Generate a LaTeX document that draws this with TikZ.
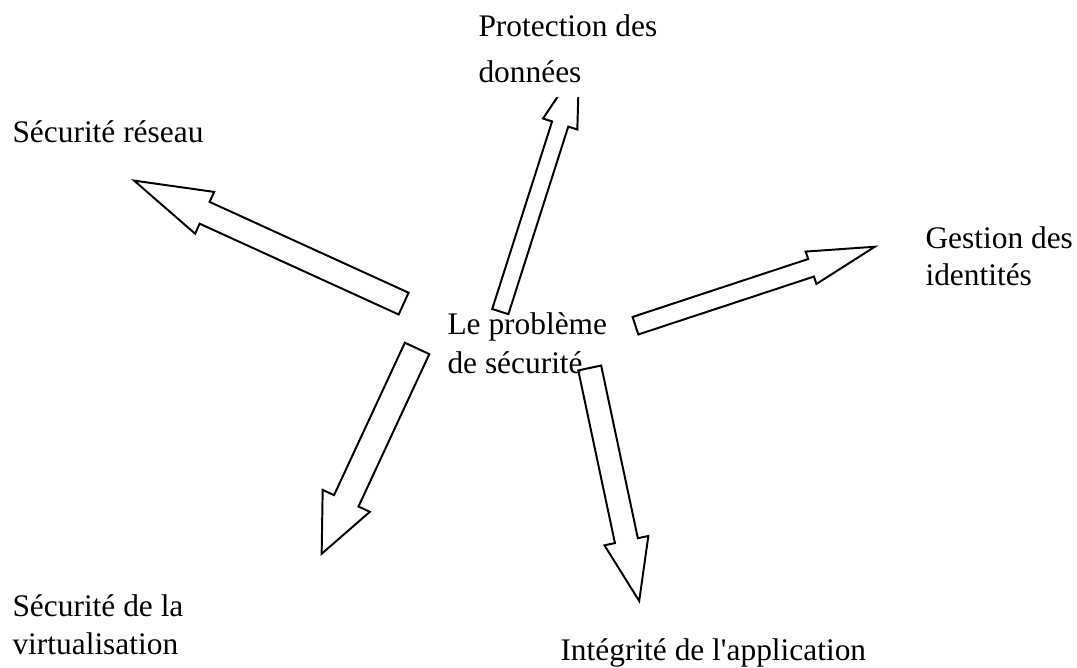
\documentclass[tikz,border=0pt]{standalone}
\usepackage{fontspec}
\setmainfont{Liberation Serif}[Ligatures=TeXOff]
\usetikzlibrary{calc,shapes.arrows}

\begin{document}
\begin{tikzpicture}[x=0.3822pt,y=-0.3822pt,
  txt/.style={anchor=base west,align=left,inner sep=0pt,font=\fontsize{12}{#1}\selectfont},
  blockarrow/.style n args={3}{single arrow,draw,line width=0.75pt,minimum width=0pt,
    inner xsep=0pt,text width=0pt,text height=0pt,text depth=0pt,anchor=tail,
    inner ysep=#1,single arrow head extend=#2,single arrow tip angle=#3}]
\useasboundingbox (0,0) rectangle (1077,667);

% tails and tips of the arrows
\coordinate (s1) at (404.5,304);   \coordinate (t1) at (135,181);
\coordinate (s2) at (500,312.5);   \coordinate (t2) at (579,65);
\coordinate (s3) at (634.5,326);   \coordinate (t3) at (874,247);
\coordinate (s4) at (417.5,347.5); \coordinate (t4) at (322,553);
\coordinate (s5) at (589.5,367);   \coordinate (t5) at (639,600);

\foreach \a/\w/\e/\ang in {1/4.2pt/4.2pt/33, 2/2.87pt/3.63pt/32, 3/3.15pt/3.0pt/28.5,
                           4/4.78pt/4.78pt/48, 5/4.1pt/4.1pt/40}
  \path let \p1=($(t\a)-(s\a)$), \n1={veclen(\x1,\y1)}, \n2={atan2(\y1,\x1)} in
    node[blockarrow={\w}{\e}{\ang},minimum height=\n1,rotate=\n2] (arr\a) at (s\a) {};

% labels (anchored on the baseline of their last line)
\node[txt=14.9] (centre) at (447,373) {Le problème\\de sécurité};
\node[txt=17.5,fill=white,inner ysep=5.5pt] (donnees) at (478,82) {Protection des\\données};
\node[txt=14] (reseau) at (12,142) {Sécurité réseau};
\node[txt=13.8] (identites) at (925,285) {Gestion des\\identités};
\node[txt=14.5] (virtu) at (12,654) {Sécurité de la\\virtualisation};
\node[txt=14] (appli) at (560,660) {Intégrité de l'application};
\end{tikzpicture}
\end{document}
